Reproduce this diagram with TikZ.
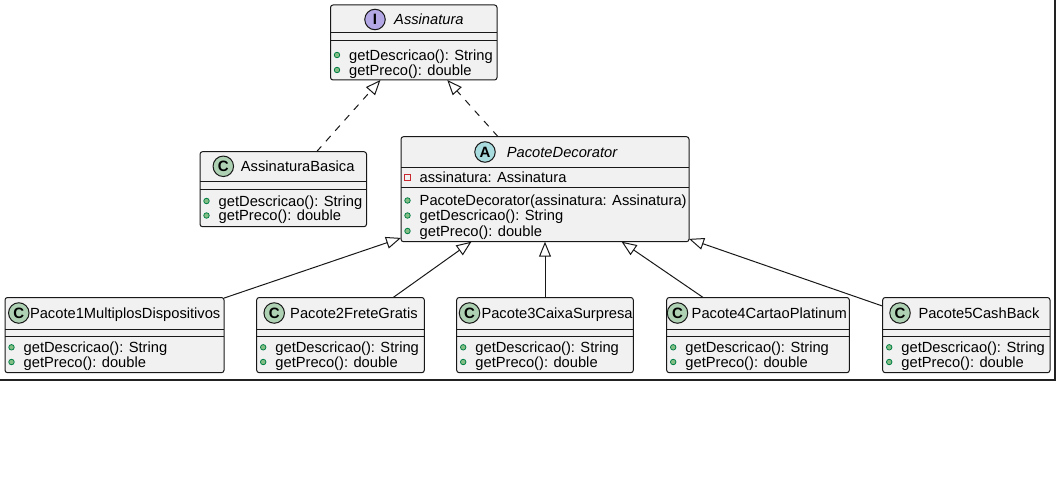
\documentclass[tikz,border=0pt]{standalone}
\usepackage{fontspec}
\setmainfont{Liberation Sans}
\usetikzlibrary{arrows.meta}
\definecolor{boxfill}{HTML}{F1F1F1}
\definecolor{boxline}{HTML}{181818}
\definecolor{spotC}{HTML}{ADD1B2}
\definecolor{spotI}{HTML}{B4A7E5}
\definecolor{spotA}{HTML}{A9DCDF}
\definecolor{pubfill}{HTML}{84BE84}
\definecolor{publine}{HTML}{038048}
\definecolor{privline}{HTML}{C82930}
\definecolor{framecol}{HTML}{222222}
\tikzset{
  clsbox/.style={draw=boxline, fill=boxfill, line width=1pt, rounded corners=2.5pt, inner sep=0pt, outer sep=0pt},
  sepline/.style={draw=boxline, line width=1pt},
  spot/.style={circle, draw=boxline, line width=1pt, minimum size=20.5pt, inner sep=0pt, font=\fontsize{15}{15}\selectfont\bfseries},
  title/.style={anchor=base west, inner sep=0pt, font=\fontsize{14.7}{16}\selectfont},
  member/.style={anchor=base west, inner sep=0pt, font=\fontsize{14.7}{16}\selectfont},
  pubdot/.style={circle, fill=pubfill, draw=publine, line width=0.8pt, minimum size=5.5pt, inner sep=0pt},
  privsq/.style={rectangle, draw=privline, line width=0.9pt, minimum size=6pt, inner sep=0pt},
  inherit/.style={draw=boxline, line width=1pt, -{Triangle[open, length=15pt, width=12pt]}},
  realize/.style={inherit, dash pattern=on 7pt off 7pt},
  framel/.style={draw=framecol, line width=2pt}
}
% class box: name, left, top, right, bottom
\newcommand\clsnode[5]{\node[clsbox, minimum width={#4-#2}, minimum height={#5-#3}] (#1) at ({(#2+#4)/2},{(#3+#5)/2}) {};}
% separators: left, right, y1, y2
\newcommand\seps[4]{\draw[sepline] (#1,#3) -- (#2,#3); \draw[sepline] (#1,#4) -- (#2,#4);}
% header: name, letter, colour, circle x, y, text x, text
\newcommand\header[7]{\node[spot, fill=#3] (#1s) at (#4,#5) {#2};
  \node[title] (#1t) at (#6,{#5+5.2}) {#7};}
% public member: name, box left, y, text
\newcommand\pubm[4]{\node[pubdot] (#1d) at ({#2+6.5},#3) {};
  \node[member] (#1) at ({#2+18.5},{#3+5.2}) {#4};}
% private member
\newcommand\privm[4]{\node[privsq] (#1d) at ({#2+6.5},#3) {};
  \node[member] (#1) at ({#2+18.5},{#3+5.2}) {#4};}
\begin{document}
\begin{tikzpicture}[x=1pt, y=-1pt]
\useasboundingbox (0,0) rectangle (1056,484);
% frame
\coordinate (fa) at (0,379.5);
\coordinate (fb) at (1055,379.5);
\coordinate (fc) at (1055,0);
\draw[framel] (fa) -- (fb) -- (fc);

% Assinatura
\clsnode{ass}{330.5}{5}{497}{80}
\seps{330.5}{497}{33}{41}
\header{ass}{I}{spotI}{375}{19.5}{394}{\itshape Assinatura}
\pubm{assm1}{330.5}{55}{getDescricao(): String}
\pubm{assm2}{330.5}{70}{getPreco(): double}

% AssinaturaBasica
\clsnode{ab}{200}{151.7}{366.5}{226.7}
\seps{200}{366.5}{181}{189}
\header{ab}{C}{spotC}{223.3}{166.3}{240.7}{AssinaturaBasica}
\pubm{abm1}{200}{201}{getDescricao(): String}
\pubm{abm2}{200}{215.5}{getPreco(): double}

% PacoteDecorator
\clsnode{pd}{401}{136.7}{689}{241.7}
\seps{401}{689}{167}{187.5}
\header{pd}{A}{spotA}{485}{152}{506.7}{\itshape PacoteDecorator}
\privm{pdf1}{401}{177.3}{assinatura: Assinatura}
\pubm{pdm1}{401}{200.5}{PacoteDecorator(assinatura: Assinatura)}
\pubm{pdm2}{401}{215.5}{getDescricao(): String}
\pubm{pdm3}{401}{231}{getPreco(): double}

% bottom row
\clsnode{pa}{5}{297.5}{224}{372.7}
\seps{5}{224}{329}{336}
\header{pa}{C}{spotC}{18.8}{313}{29.8}{Pacote1MultiplosDispositivos}
\pubm{pam1}{5}{347.3}{getDescricao(): String}
\pubm{pam2}{5}{362}{getPreco(): double}

\clsnode{pb}{256.7}{297.5}{424.3}{372.7}
\seps{256.7}{424.3}{329}{336}
\header{pb}{C}{spotC}{274.2}{313}{290}{Pacote2FreteGratis}
\pubm{pbm1}{256.7}{347.3}{getDescricao(): String}
\pubm{pbm2}{256.7}{362}{getPreco(): double}

\clsnode{pc}{456.7}{297.5}{633.3}{372.7}
\seps{456.7}{633.3}{329}{336}
\header{pc}{C}{spotC}{469.5}{313}{481.3}{Pacote3CaixaSurpresa}
\pubm{pcm1}{456.7}{347.3}{getDescricao(): String}
\pubm{pcm2}{456.7}{362}{getPreco(): double}

\clsnode{pdd}{666.7}{297.5}{849.3}{372.7}
\seps{666.7}{849.3}{329}{336}
\header{pdd}{C}{spotC}{677.5}{313}{691.5}{Pacote4CartaoPlatinum}
\pubm{pddm1}{666.7}{347.3}{getDescricao(): String}
\pubm{pddm2}{666.7}{362}{getPreco(): double}

\clsnode{pe}{882.7}{297.5}{1050}{372.7}
\seps{882.7}{1050}{329}{336}
\header{pe}{C}{spotC}{900}{313}{918.3}{Pacote5CashBack}
\pubm{pem1}{882.7}{347.3}{getDescricao(): String}
\pubm{pem2}{882.7}{362}{getPreco(): double}

% connectors
\draw[realize] (ab) -- (ass);
\draw[realize] (pd) -- (ass);
\draw[inherit] (pa) -- (pd);
\draw[inherit] (pb) -- (pd);
\draw[inherit] (pc) -- (pd);
\draw[inherit] (pdd) -- (pd);
\draw[inherit] (pe) -- (pd);
\end{tikzpicture}
\end{document}
